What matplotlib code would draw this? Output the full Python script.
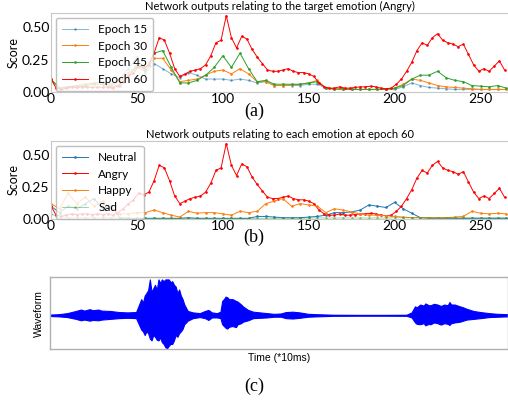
import numpy as np
import matplotlib
matplotlib.use("Agg")
import matplotlib.pyplot as plt

# sampling of the score curves (frames of 10 ms)
t_fine = np.arange(0, 267, 3)
t_coarse = np.arange(0, 266, 5)

# (a) target emotion (Angry) score at different epochs
epoch60 = [0.10, 0.03, 0.02, 0.03, 0.04, 0.035, 0.04, 0.04, 0.035, 0.04,
           0.035, 0.04, 0.03, 0.05, 0.08, 0.12, 0.15, 0.20, 0.19, 0.21,
           0.30, 0.42, 0.40, 0.30, 0.18, 0.12, 0.14, 0.16, 0.17, 0.18,
           0.21, 0.28, 0.38, 0.40, 0.59, 0.42, 0.34, 0.43, 0.41, 0.33,
           0.27, 0.22, 0.17, 0.16, 0.16, 0.17, 0.18, 0.16, 0.15, 0.15,
           0.14, 0.12, 0.07, 0.04, 0.03, 0.03, 0.04, 0.03, 0.03, 0.035,
           0.04, 0.04, 0.045, 0.04, 0.03, 0.025, 0.03, 0.06, 0.10, 0.16,
           0.23, 0.32, 0.38, 0.36, 0.42, 0.45, 0.40, 0.38, 0.37, 0.35,
           0.37, 0.29, 0.21, 0.16, 0.18, 0.16, 0.20, 0.24, 0.17]
epoch15 = [0.09, 0.03, 0.04, 0.05, 0.06, 0.07, 0.08, 0.06, 0.10, 0.18,
           0.27, 0.15, 0.22, 0.18, 0.14, 0.11, 0.15, 0.13, 0.10, 0.10,
           0.10, 0.09, 0.10, 0.09, 0.07, 0.08, 0.05, 0.05, 0.05, 0.05,
           0.06, 0.06, 0.03, 0.02, 0.02, 0.02, 0.02, 0.02, 0.02, 0.02,
           0.02, 0.04, 0.07, 0.05, 0.035, 0.03, 0.025, 0.02, 0.02, 0.02,
           0.02, 0.02, 0.02, 0.02]
epoch30 = [0.09, 0.03, 0.04, 0.05, 0.06, 0.07, 0.07, 0.05, 0.08, 0.15,
           0.19, 0.16, 0.26, 0.26, 0.17, 0.08, 0.09, 0.10, 0.13, 0.16,
           0.17, 0.14, 0.18, 0.14, 0.08, 0.08, 0.05, 0.05, 0.055, 0.06,
           0.07, 0.09, 0.03, 0.02, 0.02, 0.02, 0.02, 0.02, 0.02, 0.02,
           0.03, 0.06, 0.10, 0.09, 0.07, 0.05, 0.04, 0.035, 0.03, 0.025,
           0.02, 0.02, 0.02, 0.02]
epoch45 = [0.10, 0.03, 0.04, 0.04, 0.05, 0.06, 0.06, 0.04, 0.05, 0.12,
           0.21, 0.17, 0.30, 0.32, 0.19, 0.07, 0.07, 0.09, 0.13, 0.19,
           0.28, 0.19, 0.30, 0.18, 0.08, 0.09, 0.06, 0.06, 0.06, 0.06,
           0.07, 0.08, 0.03, 0.025, 0.025, 0.02, 0.02, 0.02, 0.02, 0.02,
           0.03, 0.05, 0.10, 0.13, 0.13, 0.16, 0.11, 0.09, 0.08, 0.05,
           0.045, 0.04, 0.05, 0.03]

# (b) every emotion at epoch 60 (Angry is epoch60 above)
neutral = [0.10, 0.05, 0.10, 0.08, 0.12, 0.16, 0.08, 0.10, 0.01, 0.005,
           0.005, 0.005, 0.005, 0.005, 0.005, 0.005, 0.01, 0.005, 0.005, 0.005,
           0.005, 0.005, 0.005, 0.005, 0.02, 0.02, 0.015, 0.01, 0.01, 0.01,
           0.015, 0.02, 0.03, 0.05, 0.05, 0.055, 0.07, 0.11, 0.10, 0.09,
           0.13, 0.08, 0.045, 0.01, 0.005, 0.005, 0.005, 0.005, 0.005, 0.005,
           0.005, 0.005, 0.005, 0.005]
happy = [0.12, 0.08, 0.20, 0.12, 0.17, 0.10, 0.14, 0.08, 0.04, 0.04,
         0.05, 0.05, 0.07, 0.05, 0.03, 0.015, 0.06, 0.045, 0.05, 0.05,
         0.04, 0.03, 0.06, 0.05, 0.06, 0.12, 0.14, 0.16, 0.10, 0.12,
         0.11, 0.10, 0.05, 0.08, 0.07, 0.055, 0.04, 0.03, 0.03, 0.025,
         0.02, 0.015, 0.01, 0.01, 0.01, 0.01, 0.01, 0.015, 0.02, 0.06,
         0.045, 0.04, 0.045, 0.04]
sad = [0.04, 0.01, 0.01, 0.01, 0.01, 0.01, 0.01, 0.01, 0.005, 0.005,
       0.005, 0.005, 0.005, 0.005, 0.005, 0.005, 0.005, 0.005, 0.005, 0.005,
       0.005, 0.005, 0.005, 0.005, 0.005, 0.005, 0.005, 0.005, 0.005, 0.005,
       0.008, 0.008, 0.008, 0.008, 0.008, 0.008, 0.008, 0.008, 0.008, 0.008,
       0.01, 0.01, 0.01, 0.01, 0.01, 0.01, 0.01, 0.01, 0.01, 0.01,
       0.01, 0.01, 0.01, 0.01]

# (c) waveform envelope (upper / lower magnitude, normalised)
wave_t = [0, 5, 10, 15, 18, 20, 23, 25, 28, 30, 35, 40, 45, 50, 53, 54, 55,
          56, 57, 58, 59, 60, 61, 62, 63, 64, 65, 66, 67, 68, 69, 70, 71, 72,
          73, 74, 75, 76, 77, 78, 80, 83, 87, 90, 92, 94, 97, 99, 100, 101,
          102, 103, 104, 106, 108, 109, 111, 112, 115, 118, 122, 126, 130,
          134, 137, 141, 145, 150, 155, 165, 180, 195, 207, 210, 212, 213,
          215, 217, 218, 220, 221, 223, 225, 227, 229, 231, 232, 233, 235,
          238, 240, 242, 246, 250, 255, 260, 266]
wave_top = [0.02, 0.03, 0.06, 0.12, 0.16, 0.13, 0.17, 0.14, 0.16, 0.13, 0.12,
            0.09, 0.08, 0.09, 0.45, 0.35, 0.55, 0.62, 0.70, 1.00, 0.65, 0.75,
            0.85, 0.70, 1.00, 0.90, 1.00, 0.95, 1.00, 1.00, 1.00, 0.92, 0.95,
            0.85, 0.80, 0.62, 0.72, 0.55, 0.45, 0.30, 0.12, 0.08, 0.06, 0.12,
            0.15, 0.08, 0.06, 0.10, 0.40, 0.45, 0.52, 0.50, 0.45, 0.45, 0.40,
            0.38, 0.30, 0.25, 0.15, 0.10, 0.08, 0.06, 0.04, 0.05, 0.09, 0.10,
            0.08, 0.04, 0.03, 0.015, 0.012, 0.012, 0.015, 0.08, 0.25, 0.22,
            0.30, 0.27, 0.33, 0.28, 0.28, 0.32, 0.30, 0.26, 0.30, 0.28, 0.37,
            0.30, 0.30, 0.25, 0.22, 0.18, 0.12, 0.09, 0.06, 0.04, 0.03]
wave_bot = [0.02, 0.03, 0.05, 0.10, 0.14, 0.12, 0.15, 0.13, 0.14, 0.12, 0.10,
            0.08, 0.07, 0.08, 0.40, 0.45, 0.55, 0.45, 0.50, 0.65, 0.70, 0.55,
            0.60, 0.68, 0.70, 0.62, 0.75, 0.80, 0.89, 0.92, 0.85, 0.80, 0.80,
            0.70, 0.55, 0.60, 0.50, 0.45, 0.38, 0.25, 0.15, 0.08, 0.05, 0.08,
            0.13, 0.06, 0.06, 0.08, 0.25, 0.30, 0.35, 0.37, 0.32, 0.30, 0.33,
            0.25, 0.22, 0.18, 0.14, 0.08, 0.07, 0.06, 0.04, 0.04, 0.08, 0.09,
            0.07, 0.04, 0.03, 0.015, 0.012, 0.012, 0.015, 0.06, 0.20, 0.24,
            0.25, 0.22, 0.28, 0.24, 0.25, 0.20, 0.22, 0.26, 0.22, 0.24, 0.27,
            0.22, 0.20, 0.18, 0.15, 0.12, 0.10, 0.08, 0.05, 0.04, 0.03]

BLUE, ORANGE, GREEN = '#1f77b4', '#ff7f0e', '#2ca02c'
FONT = ['Lato', 'DejaVu Sans']


def style_score_axes(ax, titulo):
    ax.set_xlim(0, 266)
    ax.set_ylim(0, 0.61)
    ax.set_yticks([0, 0.25, 0.5])
    ax.set_yticklabels(['0.00', '0.25', '0.50'])
    ax.set_xticks([0, 50, 100, 150, 200, 250])
    ax.tick_params(length=0, labelsize=10, pad=1)
    for lab in ax.get_xticklabels() + ax.get_yticklabels():
        lab.set_family(FONT)
    for side in ax.spines:
        ax.spines[side].set_color('#c8c8c8')
        ax.spines[side].set_linewidth(0.8)
    ax.spines['right'].set_visible(False)
    ax.set_ylabel('Score', fontsize=9, family=FONT, labelpad=2)
    ax.set_title(titulo, fontsize=8, family=FONT, pad=2)
    ax.legend(loc='upper left', prop={'family': FONT, 'size': 8.5},
              labelspacing=0.5, borderpad=0.5, handlelength=2.2,
              handletextpad=0.9, borderaxespad=0.4, edgecolor='#b0b0b0')


fig = plt.figure(figsize=(5.08, 4.03), dpi=100)
estilo = dict(marker='.', markersize=1.8, linewidth=0.7)

# (a)
ax_a = fig.add_axes([0.1004, 0.7717, 0.8996, 0.196])
ax_a.plot(t_coarse, epoch15, color=BLUE, alpha=0.55, label='Epoch 15', **estilo)
ax_a.plot(t_coarse, epoch30, color=ORANGE, label='Epoch 30', **estilo)
ax_a.plot(t_coarse, epoch45, color=GREEN, label='Epoch 45', **estilo)
ax_a.plot(t_fine, epoch60, color='red', label='Epoch 60', **estilo)
style_score_axes(ax_a, 'Network outputs relating to the target emotion (Angry)')

# (b)
ax_b = fig.add_axes([0.1004, 0.4566, 0.8996, 0.1935])
ax_b.plot(t_coarse, neutral, color=BLUE, label='Neutral', **estilo)
ax_b.plot(t_fine, epoch60, color='red', label='Angry', **estilo)
ax_b.plot(t_coarse, happy, color=ORANGE, label='Happy', **estilo)
ax_b.plot(t_coarse, sad, color=GREEN, alpha=0.45, label='Sad', **estilo)
style_score_axes(ax_b, 'Network outputs relating to each emotion at epoch 60')

# (c)
ax_c = fig.add_axes([0.0984, 0.134, 0.9016, 0.178])
ax_c.fill_between(wave_t, [-v for v in wave_bot], wave_top,
                  color='blue', linewidth=0.8, edgecolor='blue')
ax_c.set_xlim(0, 266)
ax_c.set_ylim(-0.94, 1.06)
ax_c.set_xticks([])
ax_c.set_yticks([])
for side in ax_c.spines:
    ax_c.spines[side].set_color('#b0b0b0')
    ax_c.spines[side].set_linewidth(1.0)
ax_c.set_ylabel('Waveform', fontsize=7.5, family='Liberation Sans', labelpad=4)
ax_c.set_xlabel('Time (*10ms)', fontsize=7.5, family='Liberation Sans', labelpad=3)

# sub-figure labels
for y, txt in [(0.724, '(a)'), (0.410, '(b)'), (0.042, '(c)')]:
    fig.text(0.5, y, txt, ha='center', va='center', fontsize=13,
             family='Liberation Serif')

fig.savefig('out.png', dpi=100)
